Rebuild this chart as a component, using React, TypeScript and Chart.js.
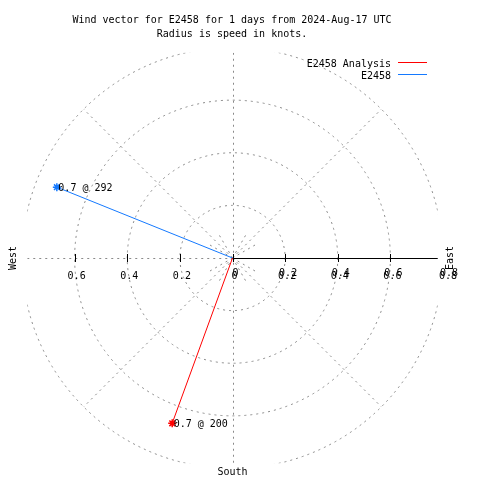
import React, { useEffect, useRef } from "react";
import { Chart, registerables } from "chart.js";

Chart.register(...registerables);

const titleLines = ["Wind vector for E2458 for 1 days from 2024-Aug-17 UTC", "Radius is speed in knots."];
const seriesNames = ["E2458 Analysis", "E2458"];
const seriesColors = ["#ff0000", "#1479ff"];
const speeds = [0.67, 0.72];
const directions = [200, 292];
const ringValues = [0.2, 0.4, 0.6, 0.8];
const rightTickValues = [0, 0.2, 0.4, 0.6, 0.8];
const leftTickValues = [0.2, 0.4, 0.6];
const compassLabels = { east: "East", west: "West", south: "South" };

const FONT = '10px "DejaVu Sans Mono"';
const rad = (d: number) => (d * Math.PI) / 180;

const polarPlugin = {
  id: "polarGrid",
  beforeDatasetsDraw(chart: any) {
    const ctx = chart.ctx;
    const xs = chart.scales.x;
    const ys = chart.scales.y;
    const cx = xs.getPixelForValue(0);
    const cy = ys.getPixelForValue(0);
    const unit = xs.getPixelForValue(1) - cx;
    const clipR = 0.78;
    const maxR = ringValues[ringValues.length - 1];
    ctx.save();
    ctx.beginPath();
    ctx.rect(cx - clipR * unit, cy - clipR * unit, 2 * clipR * unit, 2 * clipR * unit);
    ctx.clip();
    ctx.strokeStyle = "#8a8a8a";
    ctx.lineWidth = 1;
    ctx.setLineDash([2, 4]);
    for (const r of ringValues) {
      ctx.beginPath();
      ctx.arc(cx, cy, r * unit, 0, Math.PI * 2);
      ctx.stroke();
    }
    for (const a of [45, 135, 225, 315]) {
      ctx.beginPath();
      ctx.moveTo(cx, cy);
      ctx.lineTo(cx + maxR * unit * Math.sin(rad(a)), cy - maxR * unit * Math.cos(rad(a)));
      ctx.stroke();
    }
    for (let a = 30; a < 360; a += 30) {
      if (a % 90 === 0) continue;
      ctx.beginPath();
      ctx.moveTo(cx, cy);
      ctx.lineTo(cx + 0.11 * unit * Math.sin(rad(a)), cy - 0.11 * unit * Math.cos(rad(a)));
      ctx.stroke();
    }
    const vx = Math.round(cx) + 0.5;
    const hy = Math.round(cy) + 0.5;
    ctx.beginPath();
    ctx.moveTo(vx, cy - clipR * unit);
    ctx.lineTo(vx, cy + clipR * unit);
    ctx.stroke();
    ctx.beginPath();
    ctx.moveTo(cx - clipR * unit, hy);
    ctx.lineTo(cx, hy);
    ctx.stroke();
    ctx.restore();

    ctx.save();
    ctx.strokeStyle = "#000";
    ctx.lineWidth = 1;
    ctx.beginPath();
    ctx.moveTo(cx, hy);
    ctx.lineTo(cx + clipR * unit, hy);
    ctx.stroke();
    const tickVals = [...leftTickValues.map((v) => -v), ...rightTickValues.filter((v) => v < 0.7)];
    for (const v of tickVals) {
      const x = Math.round(cx + v * unit) + 0.5;
      ctx.beginPath();
      ctx.moveTo(x, cy - 4);
      ctx.lineTo(x, cy + 4);
      ctx.stroke();
    }
    ctx.restore();
  },
  afterDatasetsDraw(chart: any) {
    const ctx = chart.ctx;
    const xs = chart.scales.x;
    const ys = chart.scales.y;
    const cx = xs.getPixelForValue(0);
    const cy = ys.getPixelForValue(0);
    ctx.save();
    ctx.font = FONT;
    ctx.fillStyle = "#000";
    ctx.textBaseline = "alphabetic";

    // title
    ctx.textAlign = "center";
    ctx.fillText(titleLines[0], 232, 23);
    ctx.fillText(titleLines[1], 232, 37);

    // legend
    ctx.textAlign = "right";
    seriesNames.forEach((name, i) => {
      const base = 67 + i * 12;
      ctx.fillText(name, 391, base);
      ctx.strokeStyle = seriesColors[i];
      ctx.lineWidth = 1;
      ctx.beginPath();
      ctx.moveTo(398, base - 4.5);
      ctx.lineTo(427, base - 4.5);
      ctx.stroke();
    });

    // axis labels
    ctx.textAlign = "center";
    for (const v of leftTickValues) {
      ctx.fillText(v.toFixed(1), xs.getPixelForValue(-v) + 2, cy + 21);
    }
    for (const v of rightTickValues) {
      const t = v === 0 ? "0" : v.toFixed(1);
      const x = xs.getPixelForValue(v) + (v > 0.7 ? 5 : 2);
      ctx.fillText(t, x, cy + 21);
      ctx.fillText(t, x + 1, cy + 18);
    }

    // compass labels
    ctx.textBaseline = "middle";
    ctx.save();
    ctx.translate(450, cy);
    ctx.rotate(-Math.PI / 2);
    ctx.fillText(compassLabels.east, 0, 0);
    ctx.restore();
    ctx.save();
    ctx.translate(13, cy);
    ctx.rotate(-Math.PI / 2);
    ctx.fillText(compassLabels.west, 0, 0);
    ctx.restore();
    ctx.textBaseline = "alphabetic";
    ctx.fillText(compassLabels.south, cx, 475);

    // point labels
    ctx.textAlign = "left";
    speeds.forEach((s, i) => {
      const meta = chart.getDatasetMeta(i);
      const pt = meta.data[1];
      ctx.fillText(`${s.toFixed(1)} @ ${directions[i]}`, pt.x + 1.5, pt.y + 3.5);
    });
    ctx.restore();
  },
};

export default function App() {
  const ref = useRef<HTMLCanvasElement | null>(null);
  useEffect(() => {
    if (!ref.current) return;
    const datasets = seriesNames.map((name, i) => ({
      label: name,
      data: [
        { x: 0, y: 0 },
        { x: speeds[i] * Math.sin(rad(directions[i])), y: speeds[i] * Math.cos(rad(directions[i])) },
      ],
      showLine: true,
      borderColor: seriesColors[i],
      backgroundColor: seriesColors[i],
      borderWidth: 1,
      pointStyle: "star" as const,
      pointRadius: [0, 4],
      pointBorderWidth: 1.5,
      pointBorderColor: seriesColors[i],
    }));
    const chart = new Chart(ref.current, {
      type: "scatter",
      data: { datasets },
      options: {
        animation: false,
        responsive: false,
        layout: { padding: { left: 22, right: 37, top: 48, bottom: 12 } },
        scales: {
          x: { type: "linear", min: -0.8, max: 0.8, display: false },
          y: { type: "linear", min: -0.8, max: 0.8, display: false },
        },
        plugins: {
          legend: { display: false },
          title: { display: false },
          tooltip: { enabled: false },
        },
      },
      plugins: [polarPlugin],
    });
    return () => chart.destroy();
  }, []);
  return (
    <div style={{ position: "absolute", left: 0, top: 0, width: 480, height: 480, background: "#fff" }}>
      <canvas ref={ref} width={480} height={480} style={{ width: 480, height: 480 }} />
    </div>
  );
}
